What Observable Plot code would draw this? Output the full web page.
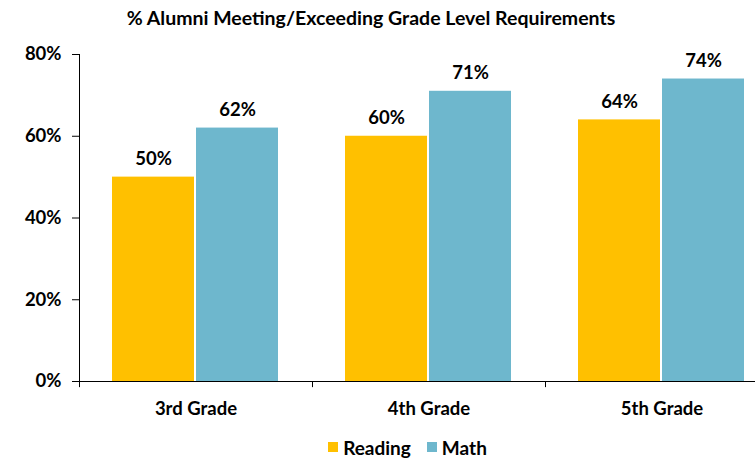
<!DOCTYPE html>
<html>
<head>
<meta charset="utf-8">
<script src="https://cdn.jsdelivr.net/npm/d3@7"></script>
<script src="https://cdn.jsdelivr.net/npm/@observablehq/plot@0.6"></script>
<style>
  html, body { margin: 0; padding: 0; background: #fff; overflow: hidden; width: 755px; height: 460px; }
  #wrap { position: relative; width: 755px; height: 460px; overflow: hidden; font-family: Lato, sans-serif; }
  #title { position: absolute; left: 0; top: 0; width: 742px; height: 36px; line-height: 36px; text-align: center; font-size: 19.5px; font-weight: bold; color: #000; }
  #chart { position: absolute; left: 0; top: 36px; width: 778px; }
  #legend { position: absolute; left: 0; top: 436px; width: 755px; height: 22px; display: flex; justify-content: center; align-items: center; gap: 16px; font-size: 19px; font-weight: bold; color: #000; padding-left: 60px; box-sizing: border-box; }
  .item { display: flex; align-items: center; gap: 5px; }
  .sw { width: 10px; height: 10px; display: inline-block; }
</style>
</head>
<body>
<div id="wrap">
  <div id="title">% Alumni Meeting/Exceeding Grade Level Requirements</div>
  <div id="chart"></div>
  <div id="legend"></div>
</div>
<script>
const grades = ["3rd Grade", "4th Grade", "5th Grade"];
const series = ["Reading", "Math"];
const reading = [50, 60, 64];
const math = [62, 71, 74];
const yTicks = [0, 20, 40, 60, 80];
const colors = ["#FFC000", "#6EB7CD"];

const data = grades.flatMap((g, i) => [
  {grade: g, series: "Reading", value: reading[i]},
  {grade: g, series: "Math", value: math[i]}
]);

const W = 778, ML = 79;
const facetW = (W - ML) / grades.length;

const chart = Plot.plot({
  width: W,
  height: 390,
  marginLeft: ML,
  marginRight: 0,
  marginTop: 18,
  marginBottom: 45,
  style: {fontFamily: "Lato, sans-serif", fontWeight: "bold", fontSize: "18.5px", color: "#000", background: "transparent", maxWidth: "none"},
  fx: {domain: grades, padding: 0, label: null, tickSize: 0, tickPadding: 20},
  x: {domain: series, paddingInner: 0.018, paddingOuter: 0.38, axis: null},
  y: {domain: [0, 80], ticks: yTicks, tickFormat: d => d + "%", tickSize: 7, tickPadding: 11, label: null},
  color: {domain: series, range: colors},
  marks: [
    Plot.barY(data, {fx: "grade", x: "series", y: "value", fill: "series"}),
    Plot.text(data, {fx: "grade", x: "series", y: "value", text: d => d.value + "%", dy: -18, fontSize: 18.5, fontWeight: "bold", fill: "#000"}),
    Plot.ruleY([0], {stroke: "#000"}),
    Plot.ruleX([0], {x: null, y1: 0, y2: -1.5, dx: -facetW / 2, stroke: "#000"}),
    Plot.ruleX([{grade: grades[0]}], {fx: "grade", x: null, y1: 0, y2: 80, dx: -facetW / 2, stroke: "#000"})
  ]
});
document.getElementById("chart").appendChild(chart);

const legend = document.getElementById("legend");
series.forEach((s, i) => {
  const item = document.createElement("span");
  item.className = "item";
  const sw = document.createElement("span");
  sw.className = "sw";
  sw.style.background = colors[i];
  item.appendChild(sw);
  item.appendChild(document.createTextNode(s));
  legend.appendChild(item);
});
</script>
</body>
</html>
